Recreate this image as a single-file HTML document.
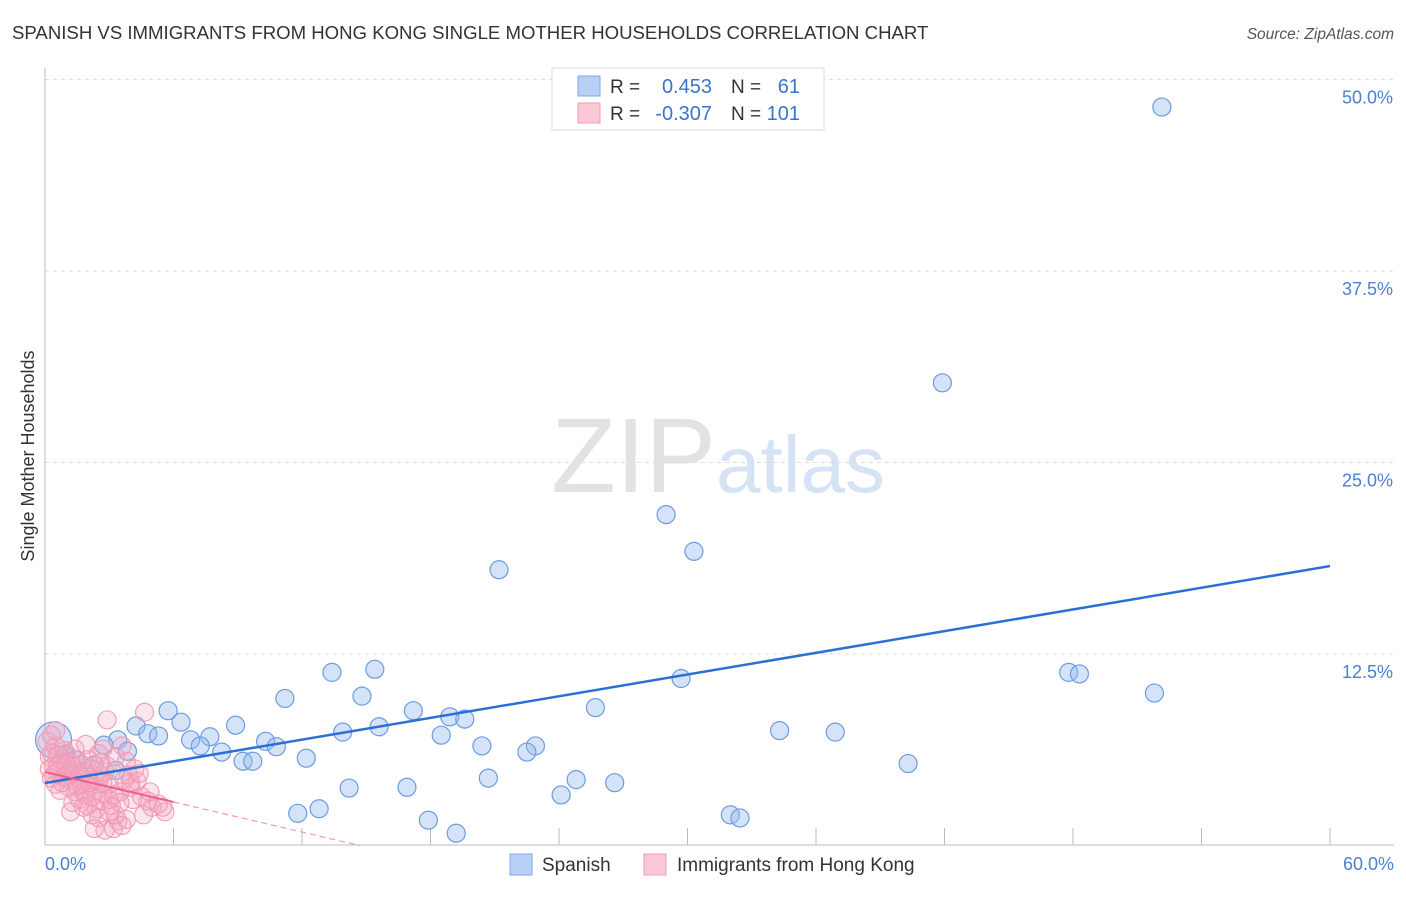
<!DOCTYPE html>
<html><head><meta charset="utf-8"><style>
body{margin:0;background:#fff;font-family:"Liberation Sans",sans-serif}
svg text{font-family:"Liberation Sans",sans-serif}
</style></head><body>
<svg width="1406" height="892" xmlns="http://www.w3.org/2000/svg">
<text x="12" y="39" font-size="18.6" fill="#333">SPANISH VS IMMIGRANTS FROM HONG KONG SINGLE MOTHER HOUSEHOLDS CORRELATION CHART</text>
<text x="1394" y="39" font-size="15.5" fill="#555" font-style="italic" text-anchor="end">Source: ZipAtlas.com</text>
<text x="716" y="492" font-size="106" fill="#e2e2e2" font-family="Liberation Serif,serif" text-anchor="end">ZIP</text>
<text x="716" y="492" font-size="80" fill="#d5e3f5">atlas</text>
<g id="grid"></g>
<g id="marks"></g>
<text transform="translate(34,456) rotate(-90)" font-size="18" fill="#333" text-anchor="middle">Single Mother Households</text>
<text x="45" y="870" font-size="18" fill="#4a7fd4">0.0%</text>
<text x="1394" y="870" font-size="18" fill="#4a7fd4" text-anchor="end">60.0%</text>
<g>
<rect x="552" y="68" width="272" height="62" fill="#fff" stroke="#ddd"/>
<rect x="578" y="76" width="22" height="20" fill="#b8d0f5" stroke="#7fa8e6"/>
<rect x="578" y="103" width="22" height="20" fill="#fbc8d6" stroke="#f39ab5"/>
<text x="610" y="93" font-size="19" fill="#333">R = </text><text x="712" y="93" font-size="20" fill="#3a73cc" text-anchor="end">0.453</text>
<text x="731" y="93" font-size="19" fill="#333">N = </text><text x="800" y="93" font-size="20" fill="#3a73cc" text-anchor="end">61</text>
<text x="610" y="120" font-size="19" fill="#333">R = </text><text x="712" y="120" font-size="20" fill="#3a73cc" text-anchor="end">-0.307</text>
<text x="731" y="120" font-size="19" fill="#333">N = </text><text x="800" y="120" font-size="20" fill="#3a73cc" text-anchor="end">101</text>
</g>
<g><rect x="510" y="854" width="22" height="21" fill="#b8d0f5" stroke="#7fa8e6"/><text x="542" y="871" font-size="19" fill="#333">Spanish</text></g>
<g><rect x="644" y="854" width="22" height="21" fill="#fbc8d6" stroke="#f39ab5"/><text x="677" y="871" font-size="19" fill="#333">Immigrants from Hong Kong</text></g>
</svg>
<script>
const yTicks=[12.5,25,37.5,50];
const yTickLabels=["12.5%","25.0%","37.5%","50.0%"];
const xTicks=[6,12,18,24,30,36,42,48,54,60];
const blueX=[52.15,41.9,29.0,30.3,21.2,15.4,13.4,47.8,48.3,51.8,29.7,11.2,14.8,5.75,25.7,17.2,18.9,19.6,6.35,8.9,4.25,15.6,4.8,5.3,13.9,34.3,36.9,18.5,6.8,7.7,10.3,3.4,7.25,10.8,20.4,22.9,2.75,3.85,8.25,22.5,9.25,9.7,12.2,40.3,2.3,0.95,20.7,24.8,26.6,14.2,16.9,24.1,11.8,12.8,17.9,19.2,32.0,32.45,1.4,3.3];
const blueY=[48.2,30.2,21.6,19.2,18.0,11.5,11.3,11.3,11.2,9.95,10.9,9.6,9.75,8.8,9.0,8.8,8.4,8.25,8.05,7.85,7.8,7.75,7.3,7.15,7.4,7.5,7.4,7.2,6.9,7.1,6.8,6.9,6.5,6.45,6.5,6.5,6.55,6.15,6.1,6.1,5.5,5.5,5.7,5.35,5.25,5.9,4.4,4.3,4.1,3.75,3.8,3.3,2.1,2.4,1.65,0.8,2.0,1.8,5.6,4.9];
const pinkPts=[[0.3,7.2],[0.5,6.5],[0.2,5.8],[0.4,5.2],[0.6,4.8],[0.8,5.5],[1.0,6.0],[1.2,5.0],[0.9,4.5],[1.5,4.8],[1.7,5.3],[1.4,4.2],[1.1,3.8],[2.0,4.5],[2.2,5.0],[1.8,3.5],[2.5,4.2],[2.8,4.8],[2.4,3.6],[3.0,4.0],[3.2,3.3],[2.6,2.9],[2.0,2.6],[1.6,3.0],[1.3,2.8],[2.9,8.2],[4.65,8.7],[3.6,6.5],[2.7,6.3],[1.9,6.6],[3.8,5.5],[4.2,5.0],[4.0,3.8],[3.5,3.5],[3.1,2.6],[3.4,1.6],[2.8,1.0],[3.2,1.1],[3.6,1.3],[2.3,1.1],[4.5,3.2],[4.8,2.9],[5.0,2.5],[5.3,2.7],[5.6,2.2],[4.3,4.2],[3.9,4.6],[4.0,4.1],[0.5,4.0],[0.7,3.6],[1.0,4.4],[1.2,4.7],[1.5,5.6],[0.3,6.0],[0.6,5.9],[2.1,3.9],[2.3,4.3],[2.6,4.6],[1.7,4.0],[1.9,3.3],[2.4,2.4],[1.2,2.2],[1.8,2.5],[3.3,2.0],[3.0,3.0],[2.7,3.4],[0.2,5.0],[0.4,4.6],[0.1,6.8],[1.3,5.2],[1.6,4.4],[2.9,5.2],[3.7,4.3],[4.1,3.0],[3.5,2.8],[2.2,3.2],[1.4,3.5],[0.8,4.1],[1.1,4.9],[2.0,5.6],[0.9,6.2],[2.5,6.0],[3.3,5.8],[4.4,4.7],[4.6,2.0],[2.5,1.8],[3.0,2.2],[1.8,4.8],[2.1,4.1],[2.7,4.1],[1.5,3.9],[0.6,5.2],[0.3,4.4],[1.0,5.3],[3.8,1.7],[2.2,2.0],[4.9,3.5],[5.5,2.5],[1.4,6.3],[2.6,5.4],[0.5,7.5]];
const blueLine=[4.08,18.24];
const pinkLine=[4.8,2.84];
const NS="http://www.w3.org/2000/svg";
const X=v=>45+v/60*1285, Y=v=>845.5-v/50*766;
function mk(t,a,p){const e=document.createElementNS(NS,t);for(const k in a)e.setAttribute(k,a[k]);p.appendChild(e);return e;}
const grid=document.getElementById('grid'), marks=document.getElementById('marks');
yTicks.forEach((t,i)=>{
 const l=mk('line',{x1:45,x2:1394,y1:Y(t),y2:Y(t),stroke:'#ddd','stroke-dasharray':'4,4'},grid);
 
 
 const tx=mk('text',{x:1393,y:Y(t)+24,'font-size':18,fill:'#4a7fd4','text-anchor':'end'},grid);
 tx.textContent=yTickLabels[i];
 
 
});
const ax=mk('line',{x1:45,x2:45,y1:68,y2:845,stroke:'#bbb'},grid);


const bx=mk('line',{x1:45,x2:1394,y1:845,y2:845,stroke:'#bbb'},grid);


xTicks.forEach(t=>{
 const l=mk('line',{x1:X(t),x2:X(t),y1:828,y2:845,stroke:'#bbb'},grid);
 
 
});
blueX.forEach((x,i)=>{
 const c=mk('circle',{cx:X(x),cy:Y(blueY[i]),r:9,fill:'rgba(150,185,240,0.4)',stroke:'#6b9be0','stroke-width':1.2},marks);
 
 
});
const big=mk('circle',{cx:X(0.4),cy:Y(6.9),r:18,fill:'rgba(150,185,240,0.4)',stroke:'#6b9be0','stroke-width':1.2},marks);


pinkPts.forEach(p=>{
 const c=mk('circle',{cx:X(p[0]),cy:Y(p[1]),r:9,fill:'rgba(245,165,190,0.28)',stroke:'#f29ab5','stroke-width':1.1},marks);
 
 
});
const bl=mk('line',{x1:X(0),y1:Y(blueLine[0]),x2:X(60),y2:Y(blueLine[1]),stroke:'#2a6fd6','stroke-width':2.5},marks);


const slope=(pinkLine[1]-pinkLine[0])/6, x0=-pinkLine[0]/slope;
const pl=mk('line',{x1:X(0),y1:Y(pinkLine[0]),x2:X(6),y2:Y(pinkLine[1]),stroke:'#ee5f8d','stroke-width':2},marks);


const pd=mk('line',{x1:X(6),y1:Y(pinkLine[1]),x2:X(x0),y2:Y(0),stroke:'#f29ab5','stroke-width':1.2,'stroke-dasharray':'6,4'},marks);


</script>
</body></html>
